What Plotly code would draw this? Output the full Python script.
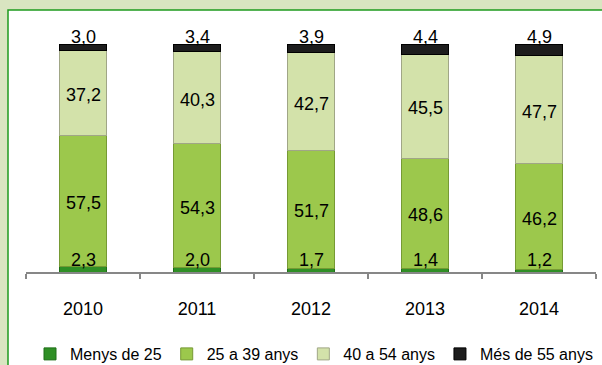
import plotly.graph_objects as go

# Age-group shares (%) per year
years = ["2010", "2011", "2012", "2013", "2014"]
menys_25 = [2.3, 2.0, 1.7, 1.4, 1.2]
de_25_39 = [57.5, 54.3, 51.7, 48.6, 46.2]
de_40_54 = [37.2, 40.3, 42.7, 45.5, 47.7]
mes_55 = [3.0, 3.4, 3.9, 4.4, 4.9]

series = [
    ("Menys de 25", menys_25, "#2f8f25", "#1f6e18"),
    ("25 a 39 anys", de_25_39, "#9cc84c", "#769a34"),
    ("40 a 54 anys", de_40_54, "#d3e2aa", "#a0a686"),
    ("Més de 55 anys", mes_55, "#1d1d1d", "#000000"),
]

# Figure geometry (pixels)
W, H = 602, 365
ML, MR, MT, MB = 26, 6, 44, 93
PW, PH = W - ML - MR, H - MT - MB

LABEL_FONT = dict(family="Arial, Liberation Sans, sans-serif", size=18, color="#000000")

fig = go.Figure()
for name, vals, color, edge in series:
    fig.add_trace(go.Bar(
        name=name, x=years, y=vals,
        marker=dict(color=color, line=dict(color=edge, width=1)),
        hoverinfo="skip",
    ))


def fmt(v):
    return f"{v:.1f}".replace(".", ",")


annotations = []
for i in range(len(years)):
    base = 0.0
    for k, (name, vals, _, _) in enumerate(series):
        v = vals[i]
        if k == 0:
            annotations.append(dict(x=i, y=0, text=fmt(v), yanchor="bottom", yshift=0))
        elif k == len(series) - 1:
            top = min(round(base + v, 4), 100)
            annotations.append(dict(x=i, y=top, text=fmt(v), yanchor="bottom", yshift=-5))
        else:
            annotations.append(dict(x=i, y=round(base + v / 2, 4), text=fmt(v),
                                    yanchor="middle", yshift=-2))
        base += v
for a in annotations:
    a.update(xref="x", yref="y", showarrow=False, font=LABEL_FONT, xanchor="center")


def px_x(p):
    return (p - ML) / PW


def px_y(p):
    return (H - MB - p) / PH


# White chart panel with green border over the pale green page
shapes = [dict(
    type="rect", xref="paper", yref="paper",
    x0=px_x(8), x1=px_x(W + 20), y0=px_y(H + 20), y1=px_y(10),
    fillcolor="#ffffff", line=dict(color="#1e9a1e", width=1.5), layer="below",
)]

fig.update_layout(
    width=W, height=H,
    margin=dict(l=ML, r=MR, t=MT, b=MB, pad=0, autoexpand=False),
    paper_bgcolor="#d9e5c1",
    plot_bgcolor="rgba(0,0,0,0)",
    barmode="stack",
    bargap=0.58,
    showlegend=True,
    legend=dict(
        orientation="h", x=px_x(314), xanchor="center", y=px_y(354), yanchor="middle",
        font=dict(family="Liberation Sans, Arial, sans-serif", size=16, color="#000000"),
        itemwidth=30, tracegroupgap=0, bgcolor="rgba(0,0,0,0)",
        traceorder="normal",
    ),
    xaxis=dict(
        type="category", range=[-0.5, len(years) - 0.5],
        showline=True, linecolor="#878787", linewidth=2,
        ticks="outside", tickson="boundaries", ticklen=5, tickcolor="#878787", tickwidth=2,
        ticklabelstandoff=19,
        tickfont=LABEL_FONT, showgrid=False, zeroline=False, fixedrange=True,
    ),
    yaxis=dict(range=[0, 100], visible=False, showgrid=False, fixedrange=True),
    annotations=annotations,
    shapes=shapes,
)

fig.write_html("out.html")
